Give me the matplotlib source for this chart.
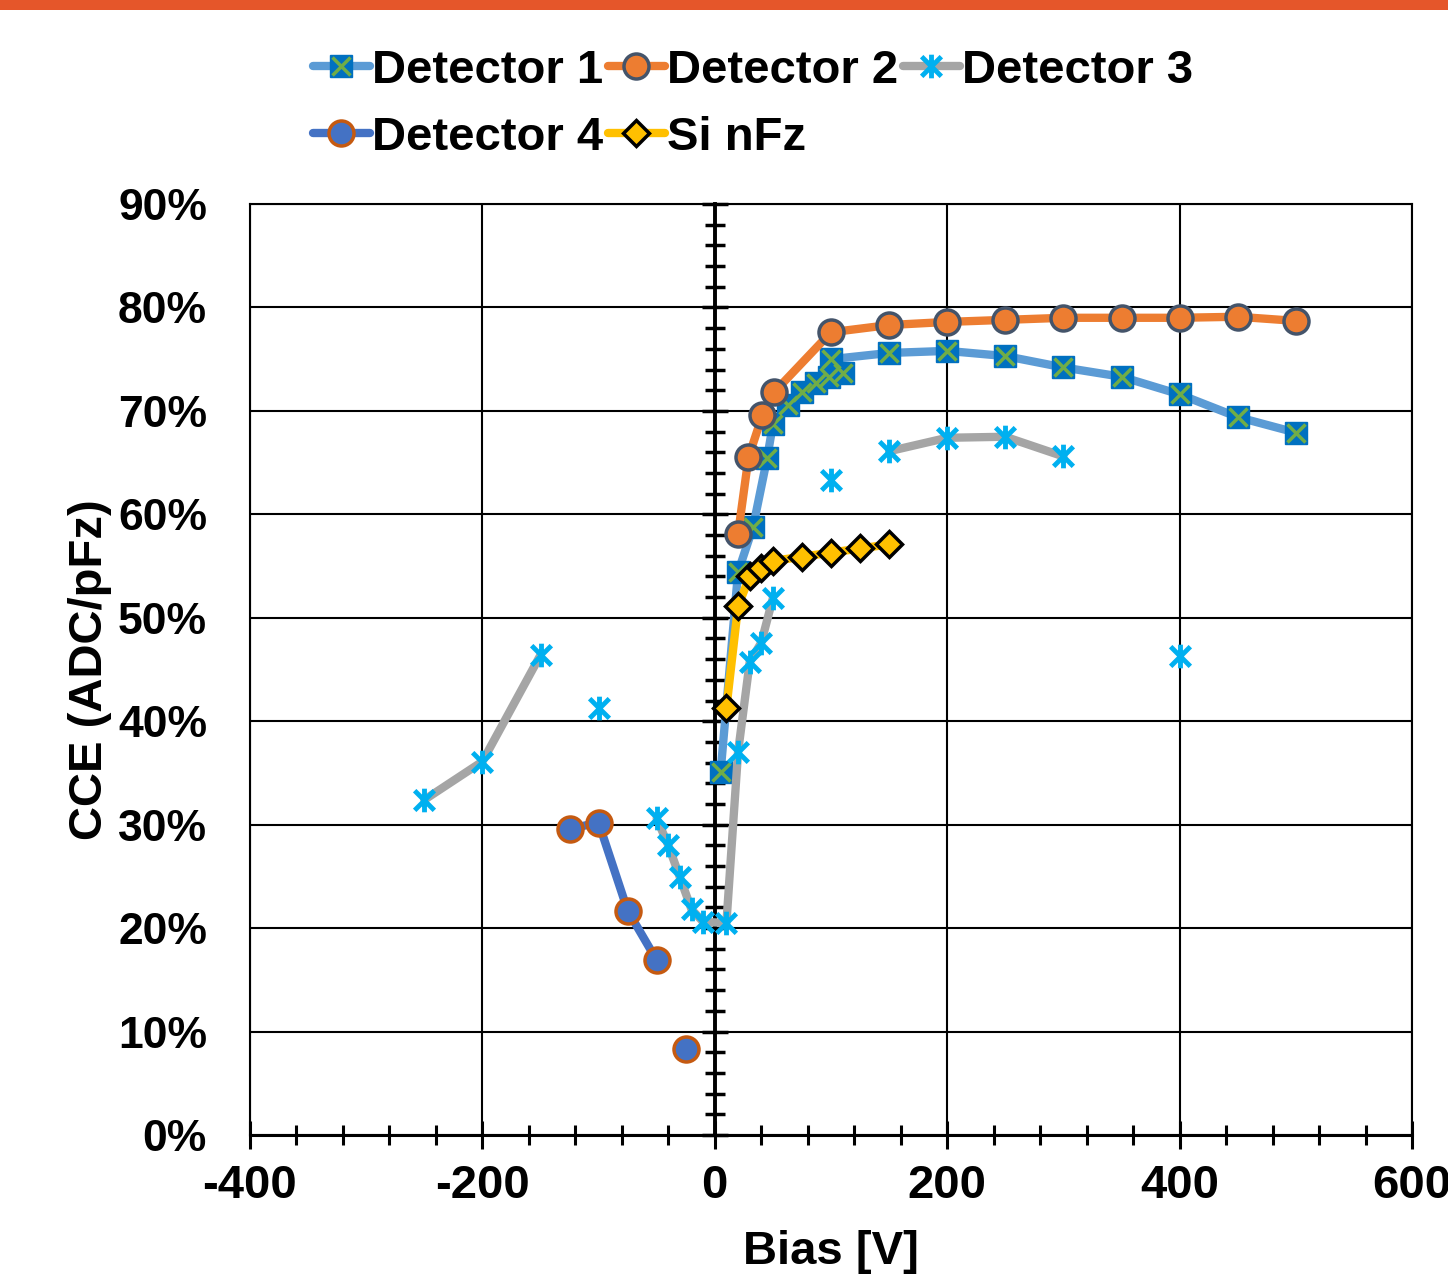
import numpy as np
import matplotlib
matplotlib.use('Agg')
import matplotlib.pyplot as plt
from matplotlib.path import Path
from matplotlib.ticker import MultipleLocator, FuncFormatter
from matplotlib.legend_handler import HandlerTuple
from matplotlib.patches import Rectangle

# bias [V] and CCE [%]; None = break in the line
d1_x = [5, 20, 33, 45, 50, 63, 75, 87, 98, 110, 100, 150, 200, 250, 300, 350, 400, 450, 500]
d1_y = [35.1, 54.4, 58.8, 65.4, 68.7, 70.6, 71.8, 72.7, 73.3, 73.7, 75.0, 75.6, 75.8, 75.3, 74.2, 73.3, 71.6, 69.4, 67.9]

d2_x = [20, 29, 41, 51, 100, 150, 200, 250, 300, 350, 400, 450, 500]
d2_y = [58.1, 65.5, 69.6, 71.8, 77.6, 78.3, 78.6, 78.8, 79.0, 79.0, 79.0, 79.1, 78.7]

d3_x = [-250, -200, -150, None, -100, None, -50, -40, -30, -20, -10, 10, 20, 30, 40, 50,
        None, 100, None, 150, 200, 250, 300, None, 400]
d3_y = [32.4, 36.1, 46.4, None, 41.3, None, 30.6, 28.0, 24.9, 21.8, 20.6, 20.5, 37.0, 45.7, 47.6, 51.9,
        None, 63.3, None, 66.1, 67.4, 67.5, 65.6, None, 46.3]

d4_x = [-125, -100, -75, -50, None, -25]
d4_y = [29.6, 30.2, 21.7, 16.9, None, 8.3]

si_x = [10, 20, 30, 40, 50, 75, 100, 125, 150]
si_y = [41.3, 51.1, 54.0, 54.8, 55.5, 55.9, 56.3, 56.7, 57.1]

labels = ['Detector 1', 'Detector 2', 'Detector 3', 'Detector 4', 'Si nFz']

plt.rcParams['font.family'] = ['Liberation Sans', 'DejaVu Sans']
plt.rcParams['font.weight'] = 'bold'
plt.rcParams['axes.labelweight'] = 'bold'
plt.rcParams['axes.unicode_minus'] = False

W, H = 1448, 1276
fig = plt.figure(figsize=(W / 100, H / 100), dpi=100)
fig.add_artist(Rectangle((0, 1 - 10 / H), 1, 10 / H, transform=fig.transFigure,
                         color='#E5562A', lw=0))
ax = fig.add_axes([250 / W, 141 / H, 1162 / W, 931 / H])

def arr(v):
    return np.array([np.nan if a is None else a for a in v], dtype=float)

LW = 6
star = Path([(-1, -1), (1, 1), (-1, 1), (1, -1), (0, -1.2), (0, 1.2)],
            [Path.MOVETO, Path.LINETO] * 3)

h1 = ax.plot(arr(d1_x), arr(d1_y), color='#5B9BD5', lw=LW, solid_capstyle='round',
             marker='s', ms=15.5, mfc='#0070C0', mec='#0070C0', mew=1, zorder=3)[0]
h1b = ax.plot(arr(d1_x), arr(d1_y), ls='none', marker='x', ms=13.5, mec='#70AD47',
              mew=2.5, zorder=3)[0]
h2 = ax.plot(arr(d2_x), arr(d2_y), color='#ED7D31', lw=LW, solid_capstyle='round',
             marker='o', ms=18, mfc='#ED7D31', mec='#44546A', mew=2.5, zorder=4)[0]
h3 = ax.plot(arr(d3_x), arr(d3_y), color='#A5A5A5', lw=LW, solid_capstyle='round',
             marker=star, ms=17, mfc='none', mec='#00B0F0', mew=3.5, zorder=5)[0]
h4 = ax.plot(arr(d4_x), arr(d4_y), color='#4472C4', lw=LW, solid_capstyle='round',
             marker='o', ms=18, mfc='#4472C4', mec='#C55A11', mew=2.5, zorder=6)[0]
h5 = ax.plot(arr(si_x), arr(si_y), color='#FFC000', lw=LW, solid_capstyle='round',
             marker='D', ms=13, mfc='#FFC000', mec='black', mew=2.5, zorder=7)[0]

ax.set_xlim(-400, 600)
ax.set_ylim(0, 90)
ax.set_xticks(np.arange(-400, 601, 200))
ax.xaxis.set_minor_locator(MultipleLocator(40))
ax.set_yticks(np.arange(0, 91, 10))
ax.yaxis.set_major_formatter(FuncFormatter(lambda v, p: f'{v:.0f}%'))
ax.grid(True, which='major', color='black', lw=1.5)
ax.set_axisbelow(True)

for s in ['top', 'right', 'left']:
    ax.spines[s].set_linewidth(1.5)
ax.spines['bottom'].set_linewidth(2.2)
ax.tick_params(axis='x', which='major', direction='inout', length=20, width=2.2, pad=11,
               labelsize=34)
ax.tick_params(axis='x', which='minor', direction='inout', length=15, width=2.2)
ax.tick_params(axis='y', which='both', length=0, pad=31, labelsize=32)

# vertical axis crossing at 0 V
x0 = (0 - ax.get_xlim()[0]) / (ax.get_xlim()[1] - ax.get_xlim()[0])
yax = ax.secondary_yaxis(x0)
yax.set_yticks(np.arange(0, 91, 10))
yax.yaxis.set_minor_locator(MultipleLocator(2))
yax.spines['left'].set_linewidth(2.8)
yax.tick_params(which='major', direction='inout', length=19, width=2.5, labelleft=False)
yax.tick_params(which='minor', direction='inout', length=14, width=2.5, labelleft=False)

ax.set_xlabel('Bias [V]', fontsize=34, labelpad=16)
ax.set_ylabel('CCE (ADC/pFz)', fontsize=34, labelpad=4)

handles = [(h1, h1b), h4, h2, h5, h3]
names = [labels[0], labels[3], labels[1], labels[4], labels[2]]
fig.legend(handles, names, ncol=3, loc='upper left', bbox_to_anchor=(313 / W, 1 - 49 / H),
           frameon=False, fontsize=34, handlelength=1.2, handletextpad=0.05,
           columnspacing=0.1, labelspacing=0.48, borderpad=0, borderaxespad=0,
           handler_map={tuple: HandlerTuple(ndivide=1, pad=0)})

fig.savefig('out.png', dpi=100)
